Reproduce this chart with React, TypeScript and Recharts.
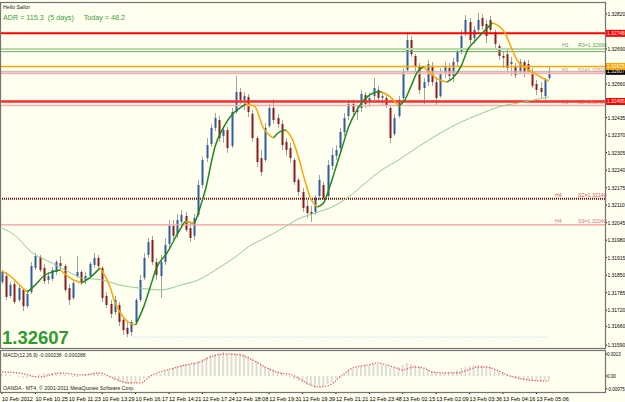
import React from "react";
import { ComposedChart, Bar, Line, XAxis, YAxis, ReferenceLine } from "recharts";

// ---- price bars (bar index = position) ----
const opens = [
  1.31825, 1.31847, 1.31773, 1.31817, 1.31758, 1.31795, 1.31735, 1.31787, 1.31877, 1.31918,
  1.31877, 1.31832, 1.31836, 1.31862, 1.31895, 1.31884, 1.31802, 1.31765, 1.31847, 1.31862,
  1.31832, 1.31847, 1.31888, 1.31914, 1.31877, 1.31773, 1.31743, 1.31713, 1.31739, 1.31684,
  1.31654, 1.31639, 1.31676, 1.31758, 1.3184, 1.31925, 1.31981, 1.31899, 1.31847, 1.31899,
  1.31966, 1.32033, 1.32003, 1.32048, 1.3207, 1.32025, 1.31996, 1.32074, 1.32185, 1.32285,
  1.32337, 1.32397, 1.32426, 1.32367, 1.32389, 1.3233, 1.32456, 1.3253, 1.32501, 1.32512,
  1.32449, 1.32359, 1.32285, 1.32278, 1.32404, 1.32471, 1.32434, 1.32411, 1.32345, 1.32322,
  1.32278, 1.32204, 1.32159, 1.32107, 1.32085, 1.32085, 1.32144, 1.32185, 1.32144, 1.32256,
  1.32293, 1.32322, 1.32382, 1.32441, 1.32486, 1.32456, 1.32471, 1.32519, 1.32493, 1.32515,
  1.32538, 1.32508, 1.32508, 1.32471, 1.32374, 1.32441, 1.32508, 1.32612, 1.32723, 1.32664,
  1.32627, 1.32545, 1.32567, 1.32627, 1.32567, 1.32515, 1.32597, 1.32619, 1.3259, 1.32642,
  1.32679, 1.32746, 1.3279, 1.32731, 1.32761, 1.32805, 1.32783, 1.32798, 1.32753, 1.32701,
  1.32664, 1.32671, 1.32634, 1.32627, 1.32605, 1.32642, 1.32634, 1.32605, 1.3256, 1.32545,
  1.32515, 1.32582,
];
const highs = [
  1.31869, 1.31862, 1.31825, 1.31828, 1.31814, 1.31802, 1.31795, 1.31899, 1.31932, 1.31925,
  1.31892, 1.31862, 1.3188, 1.31906, 1.31921, 1.31892, 1.31817, 1.31832, 1.31921, 1.31869,
  1.31862, 1.31899, 1.31932, 1.31925, 1.31884, 1.31787, 1.31758, 1.31773, 1.3175, 1.31691,
  1.31676, 1.31684, 1.31765, 1.31851, 1.31932, 1.31988, 1.31996, 1.31914, 1.31925, 1.31988,
  1.32055, 1.32055, 1.32077, 1.32092, 1.32085, 1.32048, 1.32077, 1.32204, 1.32289, 1.32359,
  1.32411, 1.32452, 1.32441, 1.32404, 1.324, 1.32471, 1.3259, 1.32545, 1.3253, 1.32523,
  1.32463, 1.32367, 1.32315, 1.32415, 1.32486, 1.32504, 1.32449, 1.32426, 1.32359, 1.32341,
  1.32285, 1.32211, 1.32174, 1.32129, 1.32107, 1.32148, 1.32222, 1.32196, 1.32278, 1.32322,
  1.32333, 1.32397, 1.32452, 1.32501, 1.32501, 1.32478, 1.32538, 1.3253, 1.32527, 1.32582,
  1.32553, 1.3253, 1.32523, 1.32478, 1.32449, 1.32515, 1.32619, 1.32753, 1.32738, 1.32671,
  1.32638, 1.32582, 1.32649, 1.32642, 1.32582, 1.32619, 1.32642, 1.32638, 1.32657, 1.32694,
  1.32761, 1.32816, 1.32805, 1.32775, 1.32824, 1.3282, 1.32798, 1.32813, 1.32761, 1.32709,
  1.32679, 1.32686, 1.3266, 1.32638, 1.32653, 1.32649, 1.32649, 1.32619, 1.32575, 1.32567,
  1.32582, 1.32627,
];
const lows = [
  1.31817, 1.31758, 1.31765, 1.31743, 1.3175, 1.31717, 1.31728, 1.3178, 1.31869, 1.31862,
  1.31817, 1.31817, 1.31828, 1.31851, 1.31869, 1.31787, 1.31739, 1.31758, 1.3184, 1.31814,
  1.31817, 1.3184, 1.31877, 1.31877, 1.3175, 1.31728, 1.31691, 1.31702, 1.31661, 1.31628,
  1.3162, 1.31624, 1.31669, 1.3175, 1.31832, 1.31914, 1.31888, 1.31832, 1.31765, 1.31888,
  1.31951, 1.31981, 1.31988, 1.32033, 1.3201, 1.31973, 1.31981, 1.32066, 1.32174, 1.3227,
  1.32326, 1.32385, 1.32345, 1.32341, 1.32304, 1.32322, 1.32449, 1.32486, 1.32463, 1.32437,
  1.32345, 1.32252, 1.32218, 1.3227, 1.32397, 1.32411, 1.32397, 1.32315, 1.32293, 1.32267,
  1.32185, 1.32144, 1.32085, 1.32062, 1.32048, 1.32074, 1.32129, 1.32129, 1.32129, 1.32241,
  1.32278, 1.32307, 1.32367, 1.32426, 1.32441, 1.32426, 1.32456, 1.32471, 1.32475, 1.32501,
  1.32493, 1.32478, 1.32471, 1.32341, 1.32367, 1.32434, 1.32501, 1.32605, 1.3266, 1.32605,
  1.32523, 1.32486, 1.32553, 1.32553, 1.32482, 1.32508, 1.32582, 1.32575, 1.32567, 1.32627,
  1.32671, 1.32738, 1.32701, 1.32709, 1.32746, 1.32761, 1.32712, 1.32749, 1.32694, 1.32649,
  1.32619, 1.32605, 1.3259, 1.32582, 1.32597, 1.32586, 1.32597, 1.32545, 1.32519, 1.32508,
  1.32501, 1.32575,
];
const closes = [
  1.31862, 1.31769, 1.31814, 1.3175, 1.31802, 1.31735, 1.3178, 1.31884, 1.31921, 1.31869,
  1.31828, 1.31847, 1.31869, 1.31899, 1.31884, 1.31795, 1.31758, 1.31821, 1.31862, 1.31825,
  1.31847, 1.31892, 1.31914, 1.31884, 1.31765, 1.31739, 1.31706, 1.31758, 1.31676, 1.31646,
  1.31632, 1.31676, 1.31758, 1.31832, 1.31914, 1.31973, 1.31899, 1.31851, 1.31899, 1.31962,
  1.32033, 1.31996, 1.32055, 1.32074, 1.32018, 1.31988, 1.32062, 1.32185, 1.32278, 1.32333,
  1.32397, 1.32434, 1.32359, 1.32389, 1.32322, 1.32456, 1.3253, 1.32501, 1.32515, 1.32456,
  1.32359, 1.3227, 1.32233, 1.32397, 1.32471, 1.32426, 1.32411, 1.32333, 1.32315, 1.32285,
  1.32196, 1.32159, 1.32099, 1.32081, 1.32077, 1.32137, 1.32204, 1.32137, 1.32259, 1.32296,
  1.32315, 1.32382, 1.32434, 1.32486, 1.32456, 1.32463, 1.32523, 1.32486, 1.32508, 1.32545,
  1.32508, 1.32515, 1.32478, 1.32359, 1.32434, 1.32501, 1.32605, 1.32723, 1.32671, 1.32627,
  1.32538, 1.32567, 1.32634, 1.32567, 1.32508, 1.32597, 1.32627, 1.3259, 1.32642, 1.32679,
  1.32738, 1.32798, 1.32723, 1.32761, 1.32798, 1.32775, 1.32738, 1.32761, 1.32709, 1.32664,
  1.32657, 1.32619, 1.32642, 1.32593, 1.32642, 1.32605, 1.32605, 1.32553, 1.32538, 1.3253,
  1.32575, 1.32607,
];

// colour-switching MA: [bar, value, colour of the segment that starts here]
const hullPts: [number, number, "g" | "o"][] = [
  [0, 1.31865, "o"], [2, 1.31847, "o"], [4, 1.31817, "o"], [6, 1.31787, "g"], [8, 1.31814, "g"],
  [10, 1.31847, "g"], [12, 1.31862, "g"], [14, 1.31869, "o"], [16, 1.31843, "o"], [19, 1.31821, "g"],
  [21, 1.3184, "g"], [23.5, 1.31877, "o"], [26, 1.31802, "o"], [27, 1.3175, "o"], [28.7, 1.31702, "o"],
  [30.2, 1.31676, "o"], [32, 1.31665, "g"], [34, 1.31735, "g"], [35.5, 1.31806, "g"], [37, 1.31877, "g"],
  [39.5, 1.31932, "g"], [42.6, 1.32018, "g"], [44, 1.32048, "o"], [46, 1.32044, "g"], [47, 1.32081, "g"],
  [48, 1.32129, "g"], [49, 1.32185, "g"], [50, 1.32259, "g"], [51, 1.32326, "g"], [53, 1.32397, "g"],
  [55, 1.32445, "g"], [57, 1.32471, "g"], [58.5, 1.32486, "o"], [60.5, 1.32478, "o"], [62.5, 1.324, "o"],
  [65, 1.32359, "g"], [66.5, 1.32382, "g"], [68, 1.32389, "o"], [69.5, 1.32356, "o"], [71, 1.32289, "o"],
  [72.5, 1.32204, "o"], [74, 1.32133, "o"], [75.5, 1.32103, "g"], [77, 1.32118, "g"], [78.5, 1.32178, "g"],
  [80, 1.32252, "g"], [81.5, 1.32326, "g"], [83, 1.324, "g"], [85, 1.32463, "g"], [87.5, 1.32512, "g"],
  [90, 1.3253, "g"], [91, 1.3253, "o"], [93, 1.32512, "o"], [95, 1.32478, "g"], [96.5, 1.32501, "g"],
  [98, 1.32553, "g"], [99.5, 1.32605, "g"], [101, 1.32623, "o"], [102.5, 1.32601, "o"], [104, 1.32582, "o"],
  [105.5, 1.32571, "o"], [106.5, 1.32567, "g"], [108, 1.32582, "g"], [110, 1.32627, "g"], [111.5, 1.32686, "g"],
  [113.5, 1.32723, "g"], [115.5, 1.32757, "g"], [117.5, 1.32787, "o"], [119, 1.32775, "o"], [120.5, 1.32749, "o"],
  [122, 1.32694, "o"], [123.5, 1.32645, "o"], [125, 1.32623, "o"], [127, 1.32605, "o"], [129, 1.32586, "o"],
  [131, 1.32571, "o"],
];

// slow MA (thin light green)
const slowIdx = [0, 3, 7, 12, 16, 19, 24, 28, 33, 38, 43, 47, 50, 53, 56, 59, 63, 67, 71, 75, 79, 83, 87, 91, 95, 100, 105, 110, 114, 119, 125, 131];
const slowVal = [
  1.32025, 1.31999, 1.31936, 1.31895, 1.31862, 1.3184, 1.31832, 1.31814, 1.31802, 1.31795, 1.31814,
  1.31832, 1.31858, 1.31888, 1.31918, 1.31955, 1.31988, 1.32022, 1.32059, 1.32081, 1.32103, 1.3214,
  1.32192, 1.32241, 1.32278, 1.3233, 1.32378, 1.32419, 1.32445, 1.32475, 1.32493, 1.32512,
];

// MACD(12,26,9) main histogram per bar + signal
const macdVals = [
  0.00012, 0.00012, 0.00006, 0, -0.00006, -0.00012, -0.00012, -0.00006, 0, 0.00012,
  0.00018, 0.00018, 0.00018, 0.00018, 0.00018, 0.00012, 0, -0.00006, -0.00006, 0,
  0.00006, 0.00012, 0.00018, 0.00018, 0.00012, 0, -0.00012, -0.00024, -0.00035, -0.00041,
  -0.00047, -0.00047, -0.00041, -0.0003, -0.00018, -0.00006, 0, 0.00006, 0.00012, 0.00024,
  0.00035, 0.00047, 0.00059, 0.00065, 0.00071, 0.00071, 0.00077, 0.00089, 0.001, 0.00112,
  0.00124, 0.0013, 0.00136, 0.00142, 0.00136, 0.00136, 0.00136, 0.00136, 0.0013, 0.00118,
  0.00106, 0.00089, 0.00065, 0.00053, 0.00047, 0.00041, 0.0003, 0.00018, 0.00006, -0.00006,
  -0.00018, -0.0003, -0.00041, -0.00053, -0.00059, -0.00065, -0.00065, -0.00059, -0.00047, -0.00035,
  -0.00018, -0.00006, 0.00012, 0.0003, 0.00041, 0.00053, 0.00059, 0.00065, 0.00065, 0.00071,
  0.00071, 0.00065, 0.00059, 0.00047, 0.00047, 0.00053, 0.00065, 0.00077, 0.00071, 0.00065,
  0.00059, 0.00047, 0.00041, 0.0003, 0.00024, 0.00018, 0.00018, 0.00018, 0.00024, 0.00035,
  0.00047, 0.00053, 0.00059, 0.00065, 0.00065, 0.00065, 0.00059, 0.00053, 0.00041, 0.0003,
  0.00018, 0.00006, -0.00006, -0.00012, -0.00018, -0.00024, -0.00024, -0.0003, -0.0003, -0.0003,
  -0.00024, -0.000238,
];
const sigIdx = [0, 4, 9, 14, 19, 23.5, 26, 30.5, 33, 36, 39.5, 44, 47.5, 50.5, 54, 57, 60, 63.5, 66.5, 69.5, 73, 75.5, 78.5, 81, 84, 87.5, 90, 92, 94.5, 96, 98.5, 101, 103, 106.5, 109, 111.5, 114, 116, 118.5, 121, 123.5, 126.5, 129, 131];
const sigVal = [
  0.00024, 0.00018, -0.00006, 0.00018, 0.00006, 0.00018, -0.00006, -0.00041, -0.00041, 0.00006,
  0.00035, 0.00065, 0.00083, 0.00118, 0.0013, 0.00124, 0.00095, 0.00047, 0.00018, 0.00006,
  -0.00041, -0.00065, -0.00053, -0.00006, 0.00047, 0.00065, 0.00077, 0.00065, 0.00047, 0.00035,
  0.00053, 0.00047, 0.00024, 0.00018, 0.00018, 0.00035, 0.00053, 0.00053, 0.00035, 0.00006,
  -0.00012, -0.00024, -0.00029, -0.000288,
];

const priceTicks = [1.3282, 1.3269, 1.3256, 1.32435, 1.3237, 1.32305, 1.3224, 1.32175, 1.3211, 1.32045, 1.3198, 1.31915, 1.3185, 1.31785, 1.3172, 1.3166, 1.3159];
const macdTicks = [0.0013, 0, -0.00075];
const timeTicks = [0, 8, 16, 24, 32, 40, 48, 56, 64, 72, 80, 88, 96, 104, 112, 120, 128];
const timeLabels = [
  "10 Feb 2012", "10 Feb 10:25", "10 Feb 11:23", "10 Feb 13:29", "10 Feb 16:17", "12 Feb 14:21",
  "12 Feb 17:24", "12 Feb 18:08", "12 Feb 19:31", "12 Feb 19:39", "12 Feb 21:21", "12 Feb 23:48",
  "13 Feb 02:15", "13 Feb 02:09", "13 Feb 03:36", "13 Feb 04:16", "13 Feb 05:06",
];

// horizontal levels
const LV_RED_HI = 1.32748;
const LV_R3_A = 1.3269;
const LV_R3_B = 1.3268;
const LV_OPEN = 1.32625;
const LV_BID = 1.32607;
const LV_S1 = 1.326;
const LV_RED_LO = 1.32495;
const LV_S2_H1 = 1.3248;
const LV_S2_H4 = 1.32134;
const LV_S3_H4 = 1.32037;
const LV_LOW = 1.3162;

const BG = "#fffff0";
const FONT = "'Liberation Sans', Arial, sans-serif";
const X_DOMAIN: [number, number] = [-0.479, 144.43];
const P_DOMAIN: [number, number] = [1.315795, 1.32857];
const M_DOMAIN: [number, number] = [-0.000946, 0.001478];

const candles = opens.map((o, k) => ({
  i: k, o, h: highs[k], l: lows[k], c: closes[k], range: [lows[k], highs[k]],
}));
const hullData = hullPts.map(([i, v, dir], k) => {
  const prev = k > 0 ? hullPts[k - 1][2] : dir;
  return {
    i,
    g: dir === "g" || prev === "g" ? v : null,
    o: dir === "o" || prev === "o" ? v : null,
  };
});
const slowData = slowIdx.map((i, k) => ({ i, v: slowVal[k] }));
const macdData = macdVals.map((m, i) => ({ i, m }));
const sigData = sigIdx.map((i, k) => ({ i, s: sigVal[k] }));

const Candle = (props: any) => {
  const { x, y, width, height, payload } = props;
  if (!payload) return null;
  const { o, h, l, c } = payload;
  const top = Math.min(y, y + height);
  const hh = Math.abs(height);
  const k = h === l ? 0 : hh / (h - l);
  const cx = Math.round(x + width / 2) + 0.5;
  const yo = top + (h - o) * k;
  const yc = top + (h - c) * k;
  const up = c >= o;
  return (
    <g>
      <line x1={cx} x2={cx} y1={top} y2={top + hh} stroke="#a2a2a2" strokeWidth={1} />
      <rect x={cx - 1} y={Math.min(yo, yc)} width={2} height={Math.max(1, Math.abs(yc - yo))} fill={up ? "#2f5d9e" : "#8c1c1c"} />
    </g>
  );
};

const levelLabel = (tag: string, text: string, color: string, tagX = 562) => (props: any) => {
  const y = props.viewBox?.y ?? 0;
  return (
    <g fontFamily={FONT} fontSize={5.3} fill={color}>
      <text x={tagX} y={y - 1.5}>{tag}</text>
      <text x={578} y={y - 1.5}>{text}</text>
    </g>
  );
};

const axisBox = (text: string, bg: string, fg: string) => (props: any) => {
  const y = props.viewBox?.y ?? 0;
  return (
    <g>
      <rect x={606} y={y - 3.5} width={19} height={7} fill={bg} />
      <text x={607} y={y + 2} fontFamily={FONT} fontSize={4.9} fill={fg}>{text}</text>
    </g>
  );
};

const PriceTick = (p: any) => (
  <g>
    <line x1={605} x2={607} y1={p.y} y2={p.y} stroke="#000" />
    <text x={607.5} y={p.y + 2} fontFamily={FONT} fontSize={4.9} fill="#000">{Number(p.payload.value).toFixed(5)}</text>
  </g>
);

const MacdTick = (p: any) => {
  const v = Number(p.payload.value);
  return (
    <g>
      <line x1={605} x2={607} y1={p.y} y2={p.y} stroke="#000" />
      <text x={607} y={p.y + 2} fontFamily={FONT} fontSize={4.5} fill="#000">{v === 0 ? "0.00" : String(v)}</text>
    </g>
  );
};

const TimeTick = (p: any) => {
  const k = timeTicks.indexOf(Number(p.payload.value));
  return (
    <g>
      <line x1={p.x} x2={p.x} y1={42} y2={44} stroke="#000" />
      <text x={p.x} y={50.5} fontFamily={FONT} fontSize={5.5} fill="#000">{timeLabels[k]}</text>
    </g>
  );
};

export default function App() {
  return (
    <div style={{ position: "absolute", left: 0, top: 0, width: 625, height: 402, background: BG, overflow: "hidden" }}>
      <div style={{ position: "absolute", left: 0, top: 0 }}>
        <ComposedChart width={625} height={349} data={candles} margin={{ top: 4, right: 0, bottom: 1, left: 0 }}>
          <XAxis type="number" dataKey="i" domain={X_DOMAIN} allowDataOverflow hide />
          <YAxis orientation="right" width={20} domain={P_DOMAIN} allowDataOverflow ticks={priceTicks}
            tick={<PriceTick />} tickLine={false} axisLine={false} interval={0} />
          <ReferenceLine y={LV_S3_H4} stroke="#f59a9a" strokeWidth={1.2} label={levelLabel("H4", "S3=1.32040", "#ee7070", 555)} />
          <ReferenceLine y={LV_S2_H4} stroke="#8b0000" strokeWidth={2} strokeDasharray="1 1" label={levelLabel("H4", "S2=1.32140", "#e05a5a", 555)} />
          <ReferenceLine y={LV_S2_H1} stroke="#f6b0b0" strokeWidth={1.5} label={levelLabel("H1", "S2=1.32480", "#ee8080")} />
          <ReferenceLine y={LV_RED_LO} stroke="#ff2a2a" strokeWidth={2.5} label={axisBox("1.32495", "#ff0000", "#ffffff")} />
          <ReferenceLine y={LV_S1} stroke="#f6b0b0" strokeWidth={2} label={levelLabel("H1", "S1=1.32600", "#ee8080")} />
          <ReferenceLine y={LV_BID} stroke="#b4b4b4" strokeWidth={1} label={axisBox("1.32607", "#000000", "#ffffff")} />
          <ReferenceLine y={LV_OPEN} stroke="#ffa500" strokeWidth={1.5} label={axisBox("1.32625", "#ffa500", "#ffffff")} />
          <ReferenceLine y={LV_R3_B} stroke="#6aaa6a" strokeWidth={1} />
          <ReferenceLine y={LV_R3_A} stroke="#b5dca5" strokeWidth={2} label={levelLabel("H1", "R3=1.32690", "#5aa85a")} />
          <ReferenceLine y={LV_RED_HI} stroke="#ff0000" strokeWidth={2} label={axisBox("1.32748", "#ff0000", "#ffffff")} />
          <ReferenceLine segment={[{ x: 31, y: LV_LOW }, { x: 131, y: LV_LOW }]} stroke="#9fd3e3" strokeDasharray="1 2" />
          <Line data={slowData} dataKey="v" type="monotone" stroke="#8fcf8f" strokeWidth={1} dot={false} isAnimationActive={false} />
          <Bar dataKey="range" barSize={3} shape={Candle} isAnimationActive={false} />
          <Line data={hullData} dataKey="g" type="monotone" stroke="#1f8a1f" strokeWidth={1.5} dot={false} isAnimationActive={false} />
          <Line data={hullData} dataKey="o" type="monotone" stroke="#ffa500" strokeWidth={1.5} dot={false} isAnimationActive={false} />
        </ComposedChart>
      </div>
      <div style={{ position: "absolute", left: 0, top: 350 }}>
        <ComposedChart width={625} height={52} data={macdData} margin={{ top: 1, right: 0, bottom: 0, left: 0 }}>
          <XAxis type="number" dataKey="i" domain={X_DOMAIN} allowDataOverflow ticks={timeTicks} interval={0}
            height={10} tick={<TimeTick />} tickLine={false} axisLine={false} />
          <YAxis orientation="right" width={20} domain={M_DOMAIN} allowDataOverflow ticks={macdTicks} interval={0}
            tick={<MacdTick />} tickLine={false} axisLine={false} />
          <Bar dataKey="m" barSize={3} fill="#dcdcd6" isAnimationActive={false} />
          <Line data={sigData} dataKey="s" type="monotone" stroke="#ff3b3b" strokeWidth={1.2} strokeDasharray="1.2 1.6" dot={false} isAnimationActive={false} />
        </ComposedChart>
      </div>
      <svg width={625} height={402} style={{ position: "absolute", left: 0, top: 0, pointerEvents: "none" }}>
        <rect x={0.5} y={2.5} width={605} height={346} fill="none" stroke="#747474" strokeWidth={1.2} />
        <rect x={0.5} y={350.5} width={605} height={42} fill="none" stroke="#747474" strokeWidth={1.2} />
        <text x={3} y={9} fontFamily={FONT} fontSize={5.3} fill="#222">Hello Sailor</text>
        <text x={3} y={20} fontFamily={FONT} fontSize={7.2} fill="#3c9c3c" xmlSpace="preserve">ADR = 115.3  (5 days)     Today = 48.2</text>
        <text x={2} y={343.5} fontFamily={FONT} fontSize={18.5} fontWeight="bold" fill="#2e9b2e">1.32607</text>
        <text x={3} y={357} fontFamily={FONT} fontSize={5} fill="#222">MACD(12,26,9) -0.000238 -0.000288</text>
        <text x={3} y={390} fontFamily={FONT} fontSize={5.2} fill="#222">OANDA - MT4, © 2001-2011 MetaQuotes Software Corp.</text>
      </svg>
    </div>
  );
}
